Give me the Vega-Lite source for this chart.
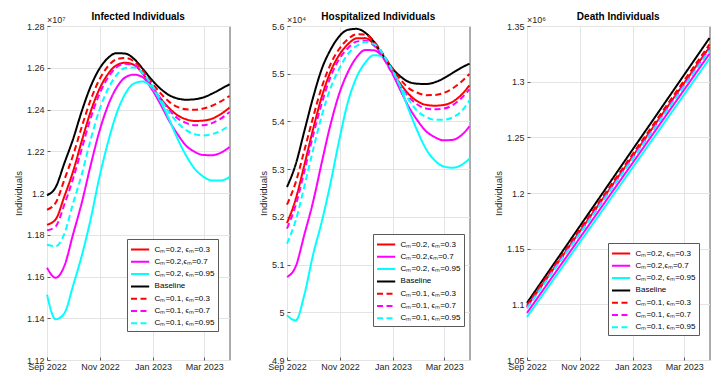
{
"$schema":"https://vega.github.io/schema/vega-lite/v6.json",
"background":"white",
"padding":{"left":12,"top":11,"right":5,"bottom":5},
"config":{
 "font":"Liberation Sans",
 "view":{"stroke":"#5a5a5a","strokeWidth":1},
 "axis":{"grid":true,"gridColor":"#e4e4e4","gridWidth":1,"domain":false,"tickColor":"#5a5a5a","tickSize":-3,"labelFontSize":9,"labelColor":"#262626","labelPadding":6,"titleFontSize":9.5,"titleFontWeight":"normal","titleColor":"#262626","titlePadding":3,"labelFlush":false,"labelOverlap":false},
 "axisX":{"labelPadding":5},
 "title":{"fontSize":10,"fontWeight":"bold","color":"#000000","offset":-6,"frame":"group"},
 "legend":{"direction":"vertical","fillColor":"white","strokeColor":"#5a5a5a","padding":3,"symbolType":"M-1.4,0H1.4","symbolSize":169,"symbolOffset":2.6,"symbolStrokeWidth":2,"labelFontSize":8,"labelColor":"#000000","rowPadding":0.3,"labelOffset":7},
 "line":{"strokeWidth":2,"interpolate":"monotone"}
},
"datasets":{
"inf":[
{"d":"2022-09-01","k":"a","v":11848000},{"d":"2022-09-11","k":"a","v":11874000},{"d":"2022-09-21","k":"a","v":11984000},{"d":"2022-10-01","k":"a","v":12103000},{"d":"2022-10-11","k":"a","v":12249000},{"d":"2022-10-21","k":"a","v":12387000},{"d":"2022-10-31","k":"a","v":12495000},{"d":"2022-11-10","k":"a","v":12569000},{"d":"2022-11-20","k":"a","v":12612000},{"d":"2022-11-30","k":"a","v":12624000},{"d":"2022-12-10","k":"a","v":12614000},{"d":"2022-12-20","k":"a","v":12572000},{"d":"2022-12-30","k":"a","v":12515000},{"d":"2023-01-09","k":"a","v":12457000},{"d":"2023-01-19","k":"a","v":12409000},{"d":"2023-01-29","k":"a","v":12373000},{"d":"2023-02-08","k":"a","v":12353000},{"d":"2023-02-18","k":"a","v":12345000},{"d":"2023-02-28","k":"a","v":12347000},{"d":"2023-03-10","k":"a","v":12356000},{"d":"2023-03-20","k":"a","v":12378000},{"d":"2023-03-30","k":"a","v":12409000},
{"d":"2022-09-01","k":"b","v":11642000},{"d":"2022-09-11","k":"b","v":11594000},{"d":"2022-09-21","k":"b","v":11651000},{"d":"2022-10-01","k":"b","v":11802000},{"d":"2022-10-11","k":"b","v":11953000},{"d":"2022-10-21","k":"b","v":12129000},{"d":"2022-10-31","k":"b","v":12291000},{"d":"2022-11-10","k":"b","v":12417000},{"d":"2022-11-20","k":"b","v":12504000},{"d":"2022-11-30","k":"b","v":12554000},{"d":"2022-12-10","k":"b","v":12567000},{"d":"2022-12-20","k":"b","v":12555000},{"d":"2022-12-30","k":"b","v":12501000},{"d":"2023-01-09","k":"b","v":12430000},{"d":"2023-01-19","k":"b","v":12350000},{"d":"2023-01-29","k":"b","v":12283000},{"d":"2023-02-08","k":"b","v":12227000},{"d":"2023-02-18","k":"b","v":12197000},{"d":"2023-02-28","k":"b","v":12182000},{"d":"2023-03-10","k":"b","v":12181000},{"d":"2023-03-20","k":"b","v":12193000},{"d":"2023-03-30","k":"b","v":12220000},
{"d":"2022-09-01","k":"c","v":11513000},{"d":"2022-09-11","k":"c","v":11395000},{"d":"2022-09-21","k":"c","v":11424000},{"d":"2022-10-01","k":"c","v":11556000},{"d":"2022-10-11","k":"c","v":11700000},{"d":"2022-10-21","k":"c","v":11870000},{"d":"2022-10-31","k":"c","v":12070000},{"d":"2022-11-10","k":"c","v":12240000},{"d":"2022-11-20","k":"c","v":12380000},{"d":"2022-11-30","k":"c","v":12475000},{"d":"2022-12-10","k":"c","v":12524000},{"d":"2022-12-20","k":"c","v":12534000},{"d":"2022-12-30","k":"c","v":12509000},{"d":"2023-01-09","k":"c","v":12444000},{"d":"2023-01-19","k":"c","v":12358000},{"d":"2023-01-29","k":"c","v":12262000},{"d":"2023-02-08","k":"c","v":12180000},{"d":"2023-02-18","k":"c","v":12116000},{"d":"2023-02-28","k":"c","v":12078000},{"d":"2023-03-10","k":"c","v":12060000},{"d":"2023-03-20","k":"c","v":12060000},{"d":"2023-03-30","k":"c","v":12077000},
{"d":"2022-09-01","k":"d","v":11989000},{"d":"2022-09-11","k":"d","v":12028000},{"d":"2022-09-21","k":"d","v":12143000},{"d":"2022-10-01","k":"d","v":12258000},{"d":"2022-10-11","k":"d","v":12392000},{"d":"2022-10-21","k":"d","v":12508000},{"d":"2022-10-31","k":"d","v":12593000},{"d":"2022-11-10","k":"d","v":12646000},{"d":"2022-11-20","k":"d","v":12670000},{"d":"2022-11-30","k":"d","v":12668000},{"d":"2022-12-10","k":"d","v":12643000},{"d":"2022-12-20","k":"d","v":12596000},{"d":"2022-12-30","k":"d","v":12545000},{"d":"2023-01-09","k":"d","v":12502000},{"d":"2023-01-19","k":"d","v":12470000},{"d":"2023-01-29","k":"d","v":12453000},{"d":"2023-02-08","k":"d","v":12447000},{"d":"2023-02-18","k":"d","v":12449000},{"d":"2023-02-28","k":"d","v":12458000},{"d":"2023-03-10","k":"d","v":12476000},{"d":"2023-03-20","k":"d","v":12498000},{"d":"2023-03-30","k":"d","v":12521000},
{"d":"2022-09-01","k":"e","v":11920000},{"d":"2022-09-11","k":"e","v":11953000},{"d":"2022-09-21","k":"e","v":12064000},{"d":"2022-10-01","k":"e","v":12181000},{"d":"2022-10-11","k":"e","v":12317000},{"d":"2022-10-21","k":"e","v":12444000},{"d":"2022-10-31","k":"e","v":12541000},{"d":"2022-11-10","k":"e","v":12606000},{"d":"2022-11-20","k":"e","v":12641000},{"d":"2022-11-30","k":"e","v":12647000},{"d":"2022-12-10","k":"e","v":12631000},{"d":"2022-12-20","k":"e","v":12588000},{"d":"2022-12-30","k":"e","v":12532000},{"d":"2023-01-09","k":"e","v":12481000},{"d":"2023-01-19","k":"e","v":12439000},{"d":"2023-01-29","k":"e","v":12413000},{"d":"2023-02-08","k":"e","v":12401000},{"d":"2023-02-18","k":"e","v":12399000},{"d":"2023-02-28","k":"e","v":12405000},{"d":"2023-03-10","k":"e","v":12418000},{"d":"2023-03-20","k":"e","v":12439000},{"d":"2023-03-30","k":"e","v":12465000},
{"d":"2022-09-01","k":"f","v":11821000},{"d":"2022-09-11","k":"f","v":11840000},{"d":"2022-09-21","k":"f","v":11945000},{"d":"2022-10-01","k":"f","v":12069000},{"d":"2022-10-11","k":"f","v":12212000},{"d":"2022-10-21","k":"f","v":12356000},{"d":"2022-10-31","k":"f","v":12471000},{"d":"2022-11-10","k":"f","v":12552000},{"d":"2022-11-20","k":"f","v":12602000},{"d":"2022-11-30","k":"f","v":12619000},{"d":"2022-12-10","k":"f","v":12613000},{"d":"2022-12-20","k":"f","v":12576000},{"d":"2022-12-30","k":"f","v":12519000},{"d":"2023-01-09","k":"f","v":12456000},{"d":"2023-01-19","k":"f","v":12401000},{"d":"2023-01-29","k":"f","v":12358000},{"d":"2023-02-08","k":"f","v":12336000},{"d":"2023-02-18","k":"f","v":12325000},{"d":"2023-02-28","k":"f","v":12325000},{"d":"2023-03-10","k":"f","v":12335000},{"d":"2023-03-20","k":"f","v":12356000},{"d":"2023-03-30","k":"f","v":12388000},
{"d":"2022-09-01","k":"g","v":11752000},{"d":"2022-09-11","k":"g","v":11745000},{"d":"2022-09-21","k":"g","v":11805000},{"d":"2022-10-01","k":"g","v":11951000},{"d":"2022-10-11","k":"g","v":12089000},{"d":"2022-10-21","k":"g","v":12252000},{"d":"2022-10-31","k":"g","v":12394000},{"d":"2022-11-10","k":"g","v":12497000},{"d":"2022-11-20","k":"g","v":12565000},{"d":"2022-11-30","k":"g","v":12599000},{"d":"2022-12-10","k":"g","v":12601000},{"d":"2022-12-20","k":"g","v":12574000},{"d":"2022-12-30","k":"g","v":12522000},{"d":"2023-01-09","k":"g","v":12453000},{"d":"2023-01-19","k":"g","v":12389000},{"d":"2023-01-29","k":"g","v":12338000},{"d":"2023-02-08","k":"g","v":12301000},{"d":"2023-02-18","k":"g","v":12282000},{"d":"2023-02-28","k":"g","v":12276000},{"d":"2023-03-10","k":"g","v":12282000},{"d":"2023-03-20","k":"g","v":12298000},{"d":"2023-03-30","k":"g","v":12324000}
],
"hosp":[
{"d":"2022-09-01","k":"a","v":51871},{"d":"2022-09-11","k":"a","v":52369},{"d":"2022-09-21","k":"a","v":53088},{"d":"2022-10-01","k":"a","v":53835},{"d":"2022-10-11","k":"a","v":54515},{"d":"2022-10-21","k":"a","v":55040},{"d":"2022-10-31","k":"a","v":55390},{"d":"2022-11-10","k":"a","v":55616},{"d":"2022-11-20","k":"a","v":55741},{"d":"2022-11-30","k":"a","v":55746},{"d":"2022-12-10","k":"a","v":55617},{"d":"2022-12-20","k":"a","v":55378},{"d":"2022-12-30","k":"a","v":55074},{"d":"2023-01-09","k":"a","v":54802},{"d":"2023-01-19","k":"a","v":54573},{"d":"2023-01-29","k":"a","v":54423},{"d":"2023-02-08","k":"a","v":54347},{"d":"2023-02-18","k":"a","v":54330},{"d":"2023-02-28","k":"a","v":54345},{"d":"2023-03-10","k":"a","v":54405},{"d":"2023-03-20","k":"a","v":54545},{"d":"2023-03-30","k":"a","v":54757},
{"d":"2022-09-01","k":"b","v":50740},{"d":"2022-09-11","k":"b","v":50960},{"d":"2022-09-21","k":"b","v":51630},{"d":"2022-10-01","k":"b","v":52315},{"d":"2022-10-11","k":"b","v":53139},{"d":"2022-10-21","k":"b","v":53929},{"d":"2022-10-31","k":"b","v":54576},{"d":"2022-11-10","k":"b","v":55031},{"d":"2022-11-20","k":"b","v":55342},{"d":"2022-11-30","k":"b","v":55496},{"d":"2022-12-10","k":"b","v":55491},{"d":"2022-12-20","k":"b","v":55348},{"d":"2022-12-30","k":"b","v":55053},{"d":"2023-01-09","k":"b","v":54671},{"d":"2023-01-19","k":"b","v":54309},{"d":"2023-01-29","k":"b","v":54023},{"d":"2023-02-08","k":"b","v":53795},{"d":"2023-02-18","k":"b","v":53671},{"d":"2023-02-28","k":"b","v":53606},{"d":"2023-03-10","k":"b","v":53612},{"d":"2023-03-20","k":"b","v":53700},{"d":"2023-03-30","k":"b","v":53898},
{"d":"2022-09-01","k":"c","v":49936},{"d":"2022-09-11","k":"c","v":49830},{"d":"2022-09-21","k":"c","v":50369},{"d":"2022-10-01","k":"c","v":51207},{"d":"2022-10-11","k":"c","v":51900},{"d":"2022-10-21","k":"c","v":52700},{"d":"2022-10-31","k":"c","v":53600},{"d":"2022-11-10","k":"c","v":54400},{"d":"2022-11-20","k":"c","v":54924},{"d":"2022-11-30","k":"c","v":55231},{"d":"2022-12-10","k":"c","v":55388},{"d":"2022-12-20","k":"c","v":55363},{"d":"2022-12-30","k":"c","v":55138},{"d":"2023-01-09","k":"c","v":54736},{"d":"2023-01-19","k":"c","v":54250},{"d":"2023-01-29","k":"c","v":53800},{"d":"2023-02-08","k":"c","v":53421},{"d":"2023-02-18","k":"c","v":53184},{"d":"2023-02-28","k":"c","v":53058},{"d":"2023-03-10","k":"c","v":53030},{"d":"2023-03-20","k":"c","v":53080},{"d":"2023-03-30","k":"c","v":53219},
{"d":"2022-09-01","k":"d","v":52626},{"d":"2022-09-11","k":"d","v":53100},{"d":"2022-09-21","k":"d","v":53800},{"d":"2022-10-01","k":"d","v":54500},{"d":"2022-10-11","k":"d","v":55100},{"d":"2022-10-21","k":"d","v":55500},{"d":"2022-10-31","k":"d","v":55780},{"d":"2022-11-10","k":"d","v":55920},{"d":"2022-11-20","k":"d","v":55940},{"d":"2022-11-30","k":"d","v":55860},{"d":"2022-12-10","k":"d","v":55670},{"d":"2022-12-20","k":"d","v":55400},{"d":"2022-12-30","k":"d","v":55140},{"d":"2023-01-09","k":"d","v":54950},{"d":"2023-01-19","k":"d","v":54830},{"d":"2023-01-29","k":"d","v":54790},{"d":"2023-02-08","k":"d","v":54785},{"d":"2023-02-18","k":"d","v":54820},{"d":"2023-02-28","k":"d","v":54900},{"d":"2023-03-10","k":"d","v":55010},{"d":"2023-03-20","k":"d","v":55120},{"d":"2023-03-30","k":"d","v":55210},
{"d":"2022-09-01","k":"e","v":52256},{"d":"2022-09-11","k":"e","v":52722},{"d":"2022-09-21","k":"e","v":53396},{"d":"2022-10-01","k":"e","v":54084},{"d":"2022-10-11","k":"e","v":54718},{"d":"2022-10-21","k":"e","v":55195},{"d":"2022-10-31","k":"e","v":55517},{"d":"2022-11-10","k":"e","v":55722},{"d":"2022-11-20","k":"e","v":55826},{"d":"2022-11-30","k":"e","v":55820},{"d":"2022-12-10","k":"e","v":55679},{"d":"2022-12-20","k":"e","v":55427},{"d":"2022-12-30","k":"e","v":55143},{"d":"2023-01-09","k":"e","v":54892},{"d":"2023-01-19","k":"e","v":54698},{"d":"2023-01-29","k":"e","v":54602},{"d":"2023-02-08","k":"e","v":54551},{"d":"2023-02-18","k":"e","v":54555},{"d":"2023-02-28","k":"e","v":54595},{"d":"2023-03-10","k":"e","v":54685},{"d":"2023-03-20","k":"e","v":54820},{"d":"2023-03-30","k":"e","v":54995},
{"d":"2022-09-01","k":"f","v":51752},{"d":"2022-09-11","k":"f","v":52246},{"d":"2022-09-21","k":"f","v":52956},{"d":"2022-10-01","k":"f","v":53706},{"d":"2022-10-11","k":"f","v":54377},{"d":"2022-10-21","k":"f","v":54930},{"d":"2022-10-31","k":"f","v":55305},{"d":"2022-11-10","k":"f","v":55534},{"d":"2022-11-20","k":"f","v":55672},{"d":"2022-11-30","k":"f","v":55693},{"d":"2022-12-10","k":"f","v":55592},{"d":"2022-12-20","k":"f","v":55353},{"d":"2022-12-30","k":"f","v":55042},{"d":"2023-01-09","k":"f","v":54753},{"d":"2023-01-19","k":"f","v":54514},{"d":"2023-01-29","k":"f","v":54355},{"d":"2023-02-08","k":"f","v":54271},{"d":"2023-02-18","k":"f","v":54254},{"d":"2023-02-28","k":"f","v":54268},{"d":"2023-03-10","k":"f","v":54335},{"d":"2023-03-20","k":"f","v":54475},{"d":"2023-03-30","k":"f","v":54673},
{"d":"2022-09-01","k":"g","v":51438},{"d":"2022-09-11","k":"g","v":51924},{"d":"2022-09-21","k":"g","v":52643},{"d":"2022-10-01","k":"g","v":53404},{"d":"2022-10-11","k":"g","v":54122},{"d":"2022-10-21","k":"g","v":54693},{"d":"2022-10-31","k":"g","v":55103},{"d":"2022-11-10","k":"g","v":55411},{"d":"2022-11-20","k":"g","v":55580},{"d":"2022-11-30","k":"g","v":55663},{"d":"2022-12-10","k":"g","v":55624},{"d":"2022-12-20","k":"g","v":55420},{"d":"2022-12-30","k":"g","v":55109},{"d":"2023-01-09","k":"g","v":54758},{"d":"2023-01-19","k":"g","v":54455},{"d":"2023-01-29","k":"g","v":54218},{"d":"2023-02-08","k":"g","v":54095},{"d":"2023-02-18","k":"g","v":54035},{"d":"2023-02-28","k":"g","v":54035},{"d":"2023-03-10","k":"g","v":54080},{"d":"2023-03-20","k":"g","v":54200},{"d":"2023-03-30","k":"g","v":54443}
],
"dth":[
{"d":"2022-09-01","k":"a","v":1098000},{"d":"2022-10-01","k":"a","v":1131300},{"d":"2022-10-31","k":"a","v":1164600},{"d":"2022-11-30","k":"a","v":1197900},{"d":"2022-12-30","k":"a","v":1231200},{"d":"2023-01-29","k":"a","v":1264500},{"d":"2023-02-28","k":"a","v":1297800},{"d":"2023-03-30","k":"a","v":1331000},
{"d":"2022-09-01","k":"b","v":1092300},{"d":"2022-10-01","k":"b","v":1125600},{"d":"2022-10-31","k":"b","v":1158800},{"d":"2022-11-30","k":"b","v":1192100},{"d":"2022-12-30","k":"b","v":1225300},{"d":"2023-01-29","k":"b","v":1258600},{"d":"2023-02-28","k":"b","v":1291800},{"d":"2023-03-30","k":"b","v":1325100},
{"d":"2022-09-01","k":"c","v":1088700},{"d":"2022-10-01","k":"c","v":1121800},{"d":"2022-10-31","k":"c","v":1154900},{"d":"2022-11-30","k":"c","v":1188000},{"d":"2022-12-30","k":"c","v":1221200},{"d":"2023-01-29","k":"c","v":1254300},{"d":"2023-02-28","k":"c","v":1287500},{"d":"2023-03-30","k":"c","v":1320600},
{"d":"2022-09-01","k":"d","v":1101300},{"d":"2022-10-01","k":"d","v":1135300},{"d":"2022-10-31","k":"d","v":1169300},{"d":"2022-11-30","k":"d","v":1203300},{"d":"2022-12-30","k":"d","v":1237300},{"d":"2023-01-29","k":"d","v":1271200},{"d":"2023-02-28","k":"d","v":1305200},{"d":"2023-03-30","k":"d","v":1339200},
{"d":"2022-09-01","k":"e","v":1099500},{"d":"2022-10-01","k":"e","v":1132900},{"d":"2022-10-31","k":"e","v":1166400},{"d":"2022-11-30","k":"e","v":1199800},{"d":"2022-12-30","k":"e","v":1233200},{"d":"2023-01-29","k":"e","v":1266700},{"d":"2023-02-28","k":"e","v":1300100},{"d":"2023-03-30","k":"e","v":1333500},
{"d":"2022-09-01","k":"f","v":1097500},{"d":"2022-10-01","k":"f","v":1130600},{"d":"2022-10-31","k":"f","v":1163800},{"d":"2022-11-30","k":"f","v":1196900},{"d":"2022-12-30","k":"f","v":1230100},{"d":"2023-01-29","k":"f","v":1263200},{"d":"2023-02-28","k":"f","v":1296400},{"d":"2023-03-30","k":"f","v":1329500},
{"d":"2022-09-01","k":"g","v":1096500},{"d":"2022-10-01","k":"g","v":1129600},{"d":"2022-10-31","k":"g","v":1162600},{"d":"2022-11-30","k":"g","v":1195700},{"d":"2022-12-30","k":"g","v":1228800},{"d":"2023-01-29","k":"g","v":1261900},{"d":"2023-02-28","k":"g","v":1294900},{"d":"2023-03-30","k":"g","v":1328000}
]
},
"spacing":57,
"bounds":"flush",
"resolve":{"scale":{"x":"independent","y":"independent","color":"independent","strokeDash":"independent"},"legend":{"color":"independent","strokeDash":"independent"}},
"hconcat":[
{"width":182.5,"height":334,"title":"Infected Individuals",
 "layer":[
 {"data":{"name":"inf"},"mark":{"type":"line"},
  "encoding":{
   "x":{"field":"d","type":"temporal","scale":{"type":"utc","nice":false,"domain":[{"year":2022,"month":"sep","date":1,"utc":true},{"year":2023,"month":"mar","date":30,"utc":true}]},"axis":{"title":null,"format":"%b %Y","values":[{"year":2022,"month":"sep","date":1,"utc":true},{"year":2022,"month":"nov","date":1,"utc":true},{"year":2023,"month":"jan","date":1,"utc":true},{"year":2023,"month":"mar","date":1,"utc":true}]}},
   "y":{"field":"v","type":"quantitative","scale":{"domain":[11200000,12800000],"zero":false,"nice":false},"axis":{"title":"Individuals","values":[11200000,11400000,11600000,11800000,12000000,12200000,12400000,12600000,12800000],"labelExpr":"format(datum.value/1e7,'.3~r')"}},
   "color":{"field":"k","type":"nominal","scale":{"domain":["a","b","c","d","e","f","g"],"range":["#ff0000","#ff00ff","#00ffff","#000000","#ff0000","#ff00ff","#00ffff"]},"legend":{"orient":"none","legendX":80,"legendY":213,"title":null,"labelExpr":"datum.value=='a'?'Cₘ=0.2, ϵₘ=0.3':datum.value=='b'?'Cₘ=0.2,ϵₘ=0.7':datum.value=='c'?'Cₘ=0.2, ϵₘ=0.95':datum.value=='d'?'Baseline':datum.value=='e'?'Cₘ=0.1, ϵₘ=0.3':datum.value=='f'?'Cₘ=0.1, ϵₘ=0.7':'Cₘ=0.1, ϵₘ=0.95'"}},
   "strokeDash":{"field":"k","type":"nominal","scale":{"domain":["a","b","c","d","e","f","g"],"range":[[1,0],[1,0],[1,0],[1,0],[6,3.5],[6,3.5],[6,3.5]]},"legend":{"orient":"none","legendX":80,"legendY":213,"title":null,"labelExpr":"datum.value=='a'?'Cₘ=0.2, ϵₘ=0.3':datum.value=='b'?'Cₘ=0.2,ϵₘ=0.7':datum.value=='c'?'Cₘ=0.2, ϵₘ=0.95':datum.value=='d'?'Baseline':datum.value=='e'?'Cₘ=0.1, ϵₘ=0.3':datum.value=='f'?'Cₘ=0.1, ϵₘ=0.7':'Cₘ=0.1, ϵₘ=0.95'"}}
  }},
 {"data":{"values":[{"t":"×10⁷"}]},"mark":{"type":"text","align":"left","baseline":"bottom","dy":-1,"fontSize":9,"color":"#262626"},
  "encoding":{"text":{"field":"t"},"x":{"datum":{"year":2022,"month":"sep","date":1,"utc":true},"type":"temporal"},"y":{"datum":12800000,"type":"quantitative"}}}
 ]},
{"width":182.5,"height":334,"title":"Hospitalized Individuals",
 "layer":[
 {"data":{"name":"hosp"},"mark":{"type":"line"},
  "encoding":{
   "x":{"field":"d","type":"temporal","scale":{"type":"utc","nice":false,"domain":[{"year":2022,"month":"sep","date":1,"utc":true},{"year":2023,"month":"mar","date":30,"utc":true}]},"axis":{"title":null,"format":"%b %Y","values":[{"year":2022,"month":"sep","date":1,"utc":true},{"year":2022,"month":"nov","date":1,"utc":true},{"year":2023,"month":"jan","date":1,"utc":true},{"year":2023,"month":"mar","date":1,"utc":true}]}},
   "y":{"field":"v","type":"quantitative","scale":{"domain":[49000,56000],"zero":false,"nice":false},"axis":{"title":"Individuals","values":[49000,50000,51000,52000,53000,54000,55000,56000],"labelExpr":"format(datum.value/1e4,'.3~r')"}},
   "color":{"field":"k","type":"nominal","scale":{"domain":["a","b","c","d","e","f","g"],"range":["#ff0000","#ff00ff","#00ffff","#000000","#ff0000","#ff00ff","#00ffff"]},"legend":{"orient":"none","legendX":86,"legendY":208,"title":null,"labelExpr":"datum.value=='a'?'Cₘ=0.2, ϵₘ=0.3':datum.value=='b'?'Cₘ=0.2,ϵₘ=0.7':datum.value=='c'?'Cₘ=0.2, ϵₘ=0.95':datum.value=='d'?'Baseline':datum.value=='e'?'Cₘ=0.1, ϵₘ=0.3':datum.value=='f'?'Cₘ=0.1, ϵₘ=0.7':'Cₘ=0.1, ϵₘ=0.95'"}},
   "strokeDash":{"field":"k","type":"nominal","scale":{"domain":["a","b","c","d","e","f","g"],"range":[[1,0],[1,0],[1,0],[1,0],[6,3.5],[6,3.5],[6,3.5]]},"legend":{"orient":"none","legendX":86,"legendY":208,"title":null,"labelExpr":"datum.value=='a'?'Cₘ=0.2, ϵₘ=0.3':datum.value=='b'?'Cₘ=0.2,ϵₘ=0.7':datum.value=='c'?'Cₘ=0.2, ϵₘ=0.95':datum.value=='d'?'Baseline':datum.value=='e'?'Cₘ=0.1, ϵₘ=0.3':datum.value=='f'?'Cₘ=0.1, ϵₘ=0.7':'Cₘ=0.1, ϵₘ=0.95'"}}
  }},
 {"data":{"values":[{"t":"×10⁴"}]},"mark":{"type":"text","align":"left","baseline":"bottom","dy":-1,"fontSize":9,"color":"#262626"},
  "encoding":{"text":{"field":"t"},"x":{"datum":{"year":2022,"month":"sep","date":1,"utc":true},"type":"temporal"},"y":{"datum":56000,"type":"quantitative"}}}
 ]},
{"width":182.5,"height":334,"title":"Death Individuals",
 "layer":[
 {"data":{"name":"dth"},"mark":{"type":"line"},
  "encoding":{
   "x":{"field":"d","type":"temporal","scale":{"type":"utc","nice":false,"domain":[{"year":2022,"month":"sep","date":1,"utc":true},{"year":2023,"month":"mar","date":30,"utc":true}]},"axis":{"title":null,"format":"%b %Y","values":[{"year":2022,"month":"sep","date":1,"utc":true},{"year":2022,"month":"nov","date":1,"utc":true},{"year":2023,"month":"jan","date":1,"utc":true},{"year":2023,"month":"mar","date":1,"utc":true}]}},
   "y":{"field":"v","type":"quantitative","scale":{"domain":[1050000,1350000],"zero":false,"nice":false},"axis":{"title":"Individuals","values":[1050000,1100000,1150000,1200000,1250000,1300000,1350000],"labelExpr":"format(datum.value/1e6,'.3~r')"}},
   "color":{"field":"k","type":"nominal","scale":{"domain":["a","b","c","d","e","f","g"],"range":["#ff0000","#ff00ff","#00ffff","#000000","#ff0000","#ff00ff","#00ffff"]},"legend":{"orient":"none","legendX":81,"legendY":217,"title":null,"labelExpr":"datum.value=='a'?'Cₘ=0.2, ϵₘ=0.3':datum.value=='b'?'Cₘ=0.2,ϵₘ=0.7':datum.value=='c'?'Cₘ=0.2, ϵₘ=0.95':datum.value=='d'?'Baseline':datum.value=='e'?'Cₘ=0.1, ϵₘ=0.3':datum.value=='f'?'Cₘ=0.1, ϵₘ=0.7':'Cₘ=0.1, ϵₘ=0.95'"}},
   "strokeDash":{"field":"k","type":"nominal","scale":{"domain":["a","b","c","d","e","f","g"],"range":[[1,0],[1,0],[1,0],[1,0],[6,3.5],[6,3.5],[6,3.5]]},"legend":{"orient":"none","legendX":81,"legendY":217,"title":null,"labelExpr":"datum.value=='a'?'Cₘ=0.2, ϵₘ=0.3':datum.value=='b'?'Cₘ=0.2,ϵₘ=0.7':datum.value=='c'?'Cₘ=0.2, ϵₘ=0.95':datum.value=='d'?'Baseline':datum.value=='e'?'Cₘ=0.1, ϵₘ=0.3':datum.value=='f'?'Cₘ=0.1, ϵₘ=0.7':'Cₘ=0.1, ϵₘ=0.95'"}}
  }},
 {"data":{"values":[{"t":"×10⁶"}]},"mark":{"type":"text","align":"left","baseline":"bottom","dy":-1,"fontSize":9,"color":"#262626"},
  "encoding":{"text":{"field":"t"},"x":{"datum":{"year":2022,"month":"sep","date":1,"utc":true},"type":"temporal"},"y":{"datum":1350000,"type":"quantitative"}}}
 ]}
]
}
